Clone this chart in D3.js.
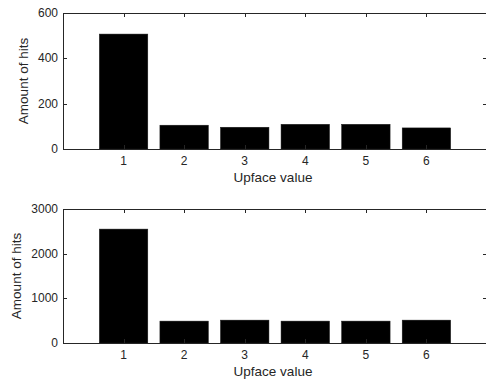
<!DOCTYPE html>
<html>
<head>
<meta charset="utf-8">
<script src="https://cdn.jsdelivr.net/npm/d3@7"></script>
<style>
  body { margin: 0; background: #fff; }
  svg { display: block; font-family: "Liberation Sans", Arial, sans-serif; }
</style>
</head>
<body>
<div id="chart"></div>
<script>
var faces = [1, 2, 3, 4, 5, 6];
var hitsTop = [507, 105, 96, 109, 109, 93];
var hitsBottom = [2550, 490, 512, 490, 490, 512];
var yTicksTop = [0, 200, 400, 600];
var yTicksBottom = [0, 1000, 2000, 3000];

var width = 486, height = 385;
var axisColor = "#262626";

var svg = d3.select("#chart").append("svg")
    .attr("width", width)
    .attr("height", height);

function panel(top, bottom, values, yTicks, labelX) {
    var x = d3.scaleLinear().domain([0, 7]).range([63, 487]);
    var y = d3.scaleLinear().domain([0, yTicks[yTicks.length - 1]]).range([bottom, top]);
    var tickLen = 4;
    var g = svg.append("g");

    // bars
    g.selectAll("rect.bar")
        .data(values)
        .enter().append("rect")
        .attr("class", "bar")
        .attr("x", function (d, i) { return x(faces[i] - 0.4); })
        .attr("width", function (d, i) { return x(faces[i] + 0.4) - x(faces[i] - 0.4); })
        .attr("y", function (d) { return y(d); })
        .attr("height", function (d) { return bottom - y(d); })
        .style("fill", "#000")
        .style("stroke", "#1a1a1a")
        .style("stroke-width", 0.5);

    // box
    g.append("rect")
        .attr("x", x(0) + 0.5)
        .attr("y", top + 0.5)
        .attr("width", x(7) - x(0))
        .attr("height", bottom - top)
        .style("fill", "none")
        .style("stroke", axisColor)
        .style("stroke-width", 1);

    // x ticks (top and bottom, inward)
    faces.forEach(function (f) {
        var px = Math.round(x(f)) + 0.5;
        g.append("line").attr("x1", px).attr("x2", px)
            .attr("y1", top).attr("y2", top + tickLen)
            .style("stroke", axisColor);
        g.append("line").attr("x1", px).attr("x2", px)
            .attr("y1", bottom).attr("y2", bottom - tickLen)
            .style("stroke", axisColor);
    });

    // y ticks (left and right, inward)
    yTicks.forEach(function (t) {
        var py = Math.round(y(t)) + 0.5;
        g.append("line").attr("x1", x(0)).attr("x2", x(0) + tickLen)
            .attr("y1", py).attr("y2", py)
            .style("stroke", axisColor);
        g.append("line").attr("x1", x(7)).attr("x2", x(7) - tickLen)
            .attr("y1", py).attr("y2", py)
            .style("stroke", axisColor);
    });

    // x tick labels
    g.selectAll("text.xt")
        .data(faces)
        .enter().append("text")
        .attr("class", "xt")
        .attr("x", function (d) { return x(d); })
        .attr("y", bottom + 16)
        .style("text-anchor", "middle")
        .style("font-size", "12px")
        .style("fill", axisColor)
        .text(function (d) { return d; });

    // y tick labels
    g.selectAll("text.yt")
        .data(yTicks)
        .enter().append("text")
        .attr("class", "yt")
        .attr("x", 58)
        .attr("y", function (d) { return y(d) + 4; })
        .style("text-anchor", "end")
        .style("font-size", "12px")
        .style("fill", axisColor)
        .text(function (d) { return d; });

    // axis labels
    g.append("text")
        .attr("x", (x(0) + x(7)) / 2 - 2)
        .attr("y", bottom + 33)
        .style("text-anchor", "middle")
        .style("font-size", "13.5px")
        .style("fill", axisColor)
        .text("Upface value");

    g.append("text")
        .attr("transform", "translate(" + labelX + "," + ((top + bottom) / 2) + ") rotate(-90)")
        .style("text-anchor", "middle")
        .style("font-size", "13.5px")
        .style("fill", axisColor)
        .text("Amount of hits");
}

panel(13, 149, hitsTop, yTicksTop, 28);
panel(209, 343, hitsBottom, yTicksBottom, 21);
</script>
</body>
</html>
